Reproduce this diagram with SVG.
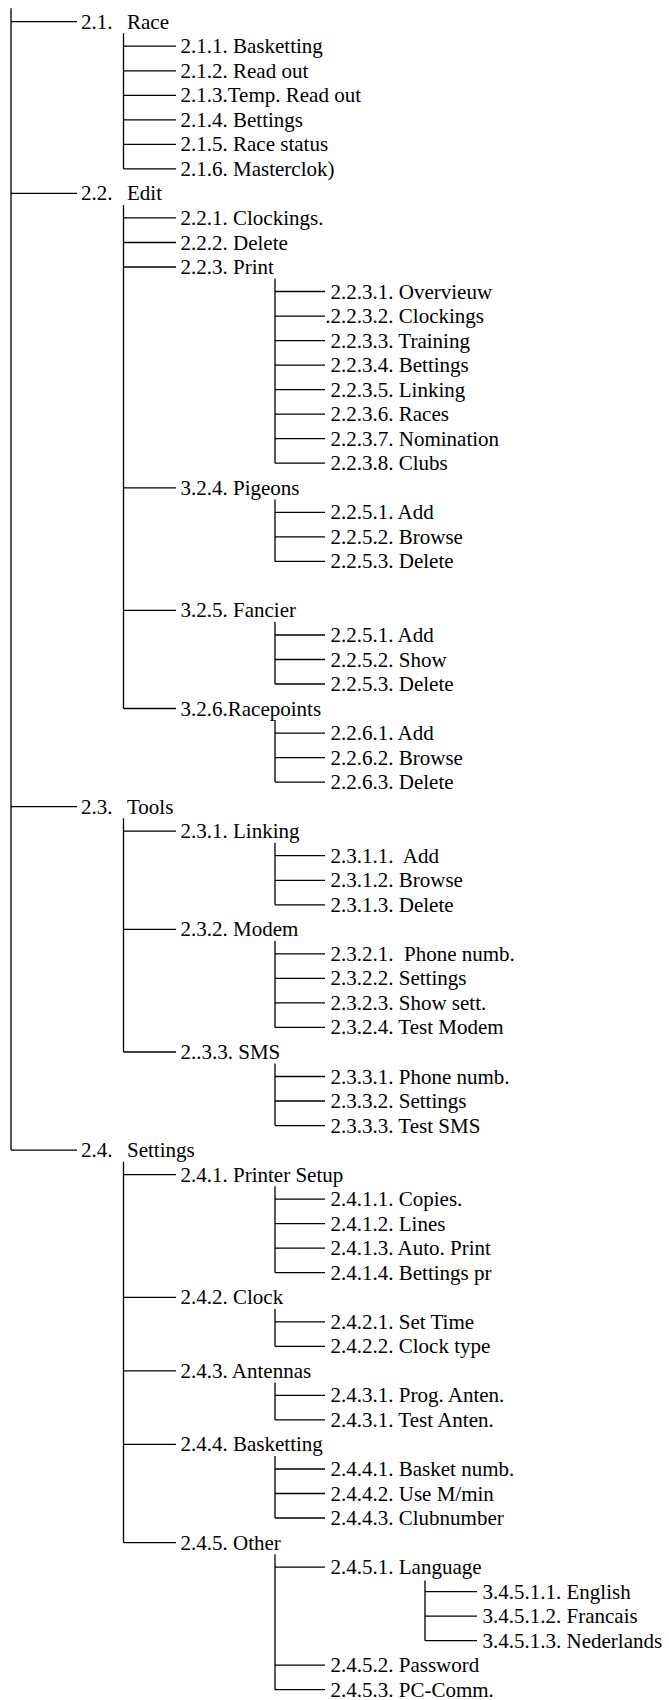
<svg xmlns="http://www.w3.org/2000/svg" width="669" height="1700" viewBox="0 0 669 1700">
<style>
.t{font-family:"Liberation Serif","Times New Roman",serif;font-size:21px;fill:#000}
.c{stroke:#000;stroke-width:1.3;fill:none}
</style>
<rect width="669" height="1700" fill="#fff"/>
<g id="connectors" class="c">
<path d="M11 8.3V1150.1 M11 21.7H77 M11 193.4H77 M11 806.7H77 M11 1150.1H77"/>
<path d="M123.5 33.3V168.9 M123.5 46.2H176 M123.5 70.8H176 M123.5 95.3H176 M123.5 119.8H176 M123.5 144.4H176 M123.5 168.9H176"/>
<path d="M123.5 205V708.5 M123.5 217.9H176 M123.5 242.5H176 M123.5 267H176 M123.5 487.8H176 M123.5 610.4H176 M123.5 708.5H176"/>
<path d="M275 278.6V463.2 M275 291.5H325 M275 316.1H325 M275 340.6H325 M275 365.1H325 M275 389.7H325 M275 414.2H325 M275 438.7H325 M275 463.2H325"/>
<path d="M275 499.4V561.4 M275 512.3H325 M275 536.8H325 M275 561.4H325"/>
<path d="M275 622V684 M275 635H325 M275 659.5H325 M275 684H325"/>
<path d="M275 720.1V782.1 M275 733.1H325 M275 757.6H325 M275 782.1H325"/>
<path d="M123.5 818.3V1052 M123.5 831.2H176 M123.5 929.3H176 M123.5 1052H176"/>
<path d="M275 842.8V904.8 M275 855.7H325 M275 880.3H325 M275 904.8H325"/>
<path d="M275 940.9V1027.4 M275 953.8H325 M275 978.4H325 M275 1002.9H325 M275 1027.4H325"/>
<path d="M275 1063.6V1125.6 M275 1076.5H325 M275 1101H325 M275 1125.6H325"/>
<path d="M123.5 1161.7V1542.6 M123.5 1174.6H176 M123.5 1297.3H176 M123.5 1370.9H176 M123.5 1444.4H176 M123.5 1542.6H176"/>
<path d="M275 1186.2V1272.7 M275 1199.1H325 M275 1223.7H325 M275 1248.2H325 M275 1272.7H325"/>
<path d="M275 1308.9V1346.3 M275 1321.8H325 M275 1346.3H325"/>
<path d="M275 1382.4V1419.9 M275 1395.4H325 M275 1419.9H325"/>
<path d="M275 1456V1518 M275 1469H325 M275 1493.5H325 M275 1518H325"/>
<path d="M275 1554.2V1689.7 M275 1567.1H325 M275 1665.2H325 M275 1689.7H325"/>
<path d="M425 1580.5V1640.7 M425 1591.6H477 M425 1616.2H477 M425 1640.7H477"/>
</g>
<g id="n-2-1"><text class="t" x="81" y="28.7">2.1.<tspan x="127">Race</tspan></text></g>
<g id="n-2-1-1"><text class="t" x="180.5" y="53.2">2.1.1. Basketting</text></g>
<g id="n-2-1-2"><text class="t" x="180.5" y="77.8">2.1.2. Read out</text></g>
<g id="n-2-1-3"><text class="t" x="180.5" y="102.3">2.1.3.Temp. Read out</text></g>
<g id="n-2-1-4"><text class="t" x="180.5" y="126.8">2.1.4. Bettings</text></g>
<g id="n-2-1-5"><text class="t" x="180.5" y="151.4">2.1.5. Race status</text></g>
<g id="n-2-1-6"><text class="t" x="180.5" y="175.9">2.1.6. Masterclok)</text></g>
<g id="n-2-2"><text class="t" x="81" y="200.4">2.2.<tspan x="127">Edit</tspan></text></g>
<g id="n-2-2-1"><text class="t" x="180.5" y="224.9">2.2.1. Clockings.</text></g>
<g id="n-2-2-2"><text class="t" x="180.5" y="249.5">2.2.2. Delete</text></g>
<g id="n-2-2-3"><text class="t" x="180.5" y="274">2.2.3. Print</text></g>
<g id="n-2-2-3-1"><text class="t" x="330.5" y="298.5">2.2.3.1. Overvieuw</text></g>
<g id="n-2-2-3-2"><text class="t" x="325.3" y="323.1">.2.2.3.2. Clockings</text></g>
<g id="n-2-2-3-3"><text class="t" x="330.5" y="347.6">2.2.3.3. Training</text></g>
<g id="n-2-2-3-4"><text class="t" x="330.5" y="372.1">2.2.3.4. Bettings</text></g>
<g id="n-2-2-3-5"><text class="t" x="330.5" y="396.7">2.2.3.5. Linking</text></g>
<g id="n-2-2-3-6"><text class="t" x="330.5" y="421.2">2.2.3.6. Races</text></g>
<g id="n-2-2-3-7"><text class="t" x="330.5" y="445.7">2.2.3.7. Nomination</text></g>
<g id="n-2-2-3-8"><text class="t" x="330.5" y="470.2">2.2.3.8. Clubs</text></g>
<g id="n-3-2-4"><text class="t" x="180.5" y="494.8">3.2.4. Pigeons</text></g>
<g id="n-2-2-5-1a"><text class="t" x="330.5" y="519.3">2.2.5.1. Add</text></g>
<g id="n-2-2-5-2a"><text class="t" x="330.5" y="543.8">2.2.5.2. Browse</text></g>
<g id="n-2-2-5-3a"><text class="t" x="330.5" y="568.4">2.2.5.3. Delete</text></g>
<g id="n-3-2-5"><text class="t" x="180.5" y="617.4">3.2.5. Fancier</text></g>
<g id="n-2-2-5-1b"><text class="t" x="330.5" y="642">2.2.5.1. Add</text></g>
<g id="n-2-2-5-2b"><text class="t" x="330.5" y="666.5">2.2.5.2. Show</text></g>
<g id="n-2-2-5-3b"><text class="t" x="330.5" y="691">2.2.5.3. Delete</text></g>
<g id="n-3-2-6"><text class="t" x="180.5" y="715.5">3.2.6.Racepoints</text></g>
<g id="n-2-2-6-1"><text class="t" x="330.5" y="740.1">2.2.6.1. Add</text></g>
<g id="n-2-2-6-2"><text class="t" x="330.5" y="764.6">2.2.6.2. Browse</text></g>
<g id="n-2-2-6-3"><text class="t" x="330.5" y="789.1">2.2.6.3. Delete</text></g>
<g id="n-2-3"><text class="t" x="81" y="813.7">2.3.<tspan x="127">Tools</tspan></text></g>
<g id="n-2-3-1"><text class="t" x="180.5" y="838.2">2.3.1. Linking</text></g>
<g id="n-2-3-1-1"><text class="t" x="330.5" y="862.7" xml:space="preserve">2.3.1.1.  Add</text></g>
<g id="n-2-3-1-2"><text class="t" x="330.5" y="887.3">2.3.1.2. Browse</text></g>
<g id="n-2-3-1-3"><text class="t" x="330.5" y="911.8">2.3.1.3. Delete</text></g>
<g id="n-2-3-2"><text class="t" x="180.5" y="936.3">2.3.2. Modem</text></g>
<g id="n-2-3-2-1"><text class="t" x="330.5" y="960.8" xml:space="preserve">2.3.2.1.  Phone numb.</text></g>
<g id="n-2-3-2-2"><text class="t" x="330.5" y="985.4">2.3.2.2. Settings</text></g>
<g id="n-2-3-2-3"><text class="t" x="330.5" y="1009.9">2.3.2.3. Show sett.</text></g>
<g id="n-2-3-2-4"><text class="t" x="330.5" y="1034.4">2.3.2.4. Test Modem</text></g>
<g id="n-2-3-3"><text class="t" x="180.5" y="1059">2..3.3. SMS</text></g>
<g id="n-2-3-3-1"><text class="t" x="330.5" y="1083.5">2.3.3.1. Phone numb.</text></g>
<g id="n-2-3-3-2"><text class="t" x="330.5" y="1108">2.3.3.2. Settings</text></g>
<g id="n-2-3-3-3"><text class="t" x="330.5" y="1132.6">2.3.3.3. Test SMS</text></g>
<g id="n-2-4"><text class="t" x="81" y="1157.1">2.4.<tspan x="127">Settings</tspan></text></g>
<g id="n-2-4-1"><text class="t" x="180.5" y="1181.6">2.4.1. Printer Setup</text></g>
<g id="n-2-4-1-1"><text class="t" x="330.5" y="1206.1">2.4.1.1. Copies.</text></g>
<g id="n-2-4-1-2"><text class="t" x="330.5" y="1230.7">2.4.1.2. Lines</text></g>
<g id="n-2-4-1-3"><text class="t" x="330.5" y="1255.2">2.4.1.3. Auto. Print</text></g>
<g id="n-2-4-1-4"><text class="t" x="330.5" y="1279.7">2.4.1.4. Bettings pr</text></g>
<g id="n-2-4-2"><text class="t" x="180.5" y="1304.3">2.4.2. Clock</text></g>
<g id="n-2-4-2-1"><text class="t" x="330.5" y="1328.8">2.4.2.1. Set Time</text></g>
<g id="n-2-4-2-2"><text class="t" x="330.5" y="1353.3">2.4.2.2. Clock type</text></g>
<g id="n-2-4-3"><text class="t" x="180.5" y="1377.9">2.4.3. Antennas</text></g>
<g id="n-2-4-3-1a"><text class="t" x="330.5" y="1402.4">2.4.3.1. Prog. Anten.</text></g>
<g id="n-2-4-3-1b"><text class="t" x="330.5" y="1426.9">2.4.3.1. Test Anten.</text></g>
<g id="n-2-4-4"><text class="t" x="180.5" y="1451.4">2.4.4. Basketting</text></g>
<g id="n-2-4-4-1"><text class="t" x="330.5" y="1476">2.4.4.1. Basket numb.</text></g>
<g id="n-2-4-4-2"><text class="t" x="330.5" y="1500.5">2.4.4.2. Use M/min</text></g>
<g id="n-2-4-4-3"><text class="t" x="330.5" y="1525">2.4.4.3. Clubnumber</text></g>
<g id="n-2-4-5"><text class="t" x="180.5" y="1549.6">2.4.5. Other</text></g>
<g id="n-2-4-5-1"><text class="t" x="330.5" y="1574.1">2.4.5.1. Language</text></g>
<g id="n-3-4-5-1-1"><text class="t" x="482.5" y="1598.6">3.4.5.1.1. English</text></g>
<g id="n-3-4-5-1-2"><text class="t" x="482.5" y="1623.2">3.4.5.1.2. Francais</text></g>
<g id="n-3-4-5-1-3"><text class="t" x="482.5" y="1647.7">3.4.5.1.3. Nederlands</text></g>
<g id="n-2-4-5-2"><text class="t" x="330.5" y="1672.2">2.4.5.2. Password</text></g>
<g id="n-2-4-5-3"><text class="t" x="330.5" y="1696.7">2.4.5.3. PC-Comm.</text></g>
</svg>
